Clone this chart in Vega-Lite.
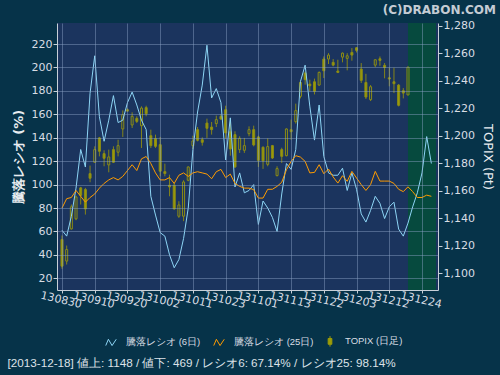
{
  "$schema": "https://vega.github.io/schema/vega-lite/v6.json",
  "width": 381,
  "height": 267,
  "autosize": {"type": "none"},
  "padding": {"left": 57, "top": 23, "right": 62, "bottom": 85},
  "background": "#063349",
  "config": {
    "view": {"fill": "#1b345e", "stroke": null},
    "font": "DejaVu Sans",
    "axis": {
      "labelColor": "#d8dde4",
      "labelFont": "DejaVu Sans",
      "labelFontSize": 11,
      "domainColor": "#c8d0d8",
      "tickColor": "#c8d0d8",
      "gridColor": "#8fa3c8",
      "gridOpacity": 0.45,
      "titleColor": "#e8ecf0"
    }
  },
  "title": {
    "text": "(C)DRABON.COM",
    "anchor": "end",
    "orient": "top",
    "frame": "group",
    "dx": 58,
    "offset": 3,
    "fontSize": 12,
    "fontWeight": "bold",
    "color": "#c4ccd4",
    "font": "DejaVu Sans"
  },
  "datasets": {
    "ratios": [
      {"d":0,"r6":61,"r25":80},{"d":1,"r6":56,"r25":88},{"d":2,"r6":73,"r25":89},{"d":3,"r6":97,"r25":95},
      {"d":4,"r6":130,"r25":90},{"d":5,"r6":115,"r25":85},{"d":6,"r6":178,"r25":89},{"d":7,"r6":210,"r25":92},
      {"d":8,"r6":158,"r25":97},{"d":9,"r6":137,"r25":101},{"d":10,"r6":155,"r25":104},{"d":11,"r6":176,"r25":106},
      {"d":12,"r6":153,"r25":104},{"d":13,"r6":155,"r25":107},{"d":14,"r6":170,"r25":112},{"d":15,"r6":179,"r25":117},
      {"d":16,"r6":168,"r25":112},{"d":17,"r6":155,"r25":122},{"d":18,"r6":147,"r25":124},{"d":19,"r6":90,"r25":118},
      {"d":20,"r6":74,"r25":110},{"d":21,"r6":59,"r25":104},{"d":22,"r6":56,"r25":104},{"d":23,"r6":40,"r25":106},
      {"d":24,"r6":29,"r25":101},{"d":25,"r6":36,"r25":108},{"d":26,"r6":54,"r25":110},{"d":27,"r6":80,"r25":107},
      {"d":28,"r6":130,"r25":110},{"d":29,"r6":162,"r25":111},{"d":30,"r6":185,"r25":110},{"d":31,"r6":219,"r25":109},
      {"d":32,"r6":174,"r25":105},{"d":33,"r6":182,"r25":111},{"d":34,"r6":170,"r25":113},{"d":35,"r6":121,"r25":106},
      {"d":36,"r6":157,"r25":109},{"d":37,"r6":98,"r25":101},{"d":38,"r6":110,"r25":98.5},{"d":39,"r6":93,"r25":97},
      {"d":40,"r6":95,"r25":97},{"d":41,"r6":100,"r25":95.7},{"d":42,"r6":66,"r25":88.5},{"d":43,"r6":86,"r25":88.5},
      {"d":44,"r6":80,"r25":96},{"d":45,"r6":72,"r25":96},{"d":46,"r6":60,"r25":98.5},{"d":47,"r6":92,"r25":102},
      {"d":48,"r6":118,"r25":112.7},{"d":49,"r6":113,"r25":119.8},{"d":50,"r6":130,"r25":124.7},{"d":51,"r6":188,"r25":123.5},
      {"d":52,"r6":202,"r25":119.8},{"d":53,"r6":167,"r25":110},{"d":54,"r6":138,"r25":110.4},{"d":55,"r6":168,"r25":117},
      {"d":56,"r6":124,"r25":109.3},{"d":57,"r6":110,"r25":113.3},{"d":58,"r6":108,"r25":106.5},{"d":59,"r6":108,"r25":101.3},
      {"d":60,"r6":114,"r25":107.6},{"d":61,"r6":95,"r25":102.8},{"d":62,"r6":110,"r25":111.3},{"d":63,"r6":96,"r25":105.6},
      {"d":64,"r6":75,"r25":100},{"d":65,"r6":68,"r25":95},{"d":66,"r6":78,"r25":100},{"d":67,"r6":90,"r25":111.3},
      {"d":68,"r6":84,"r25":103},{"d":69,"r6":71,"r25":103},{"d":70,"r6":81,"r25":103},{"d":71,"r6":85,"r25":101},
      {"d":72,"r6":62,"r25":96},{"d":73,"r6":56,"r25":94},{"d":74,"r6":67.14,"r25":98.14},{"d":75,"r6":81,"r25":94},
      {"d":76,"r6":93,"r25":89},{"d":77,"r6":110,"r25":89},{"d":78,"r6":141,"r25":91},{"d":79,"r6":118,"r25":90}
    ],
    "topix": [
      {"d":0,"o":1124.7,"h":1127.6,"l":1103.4,"c":1105.3},{"d":1,"o":1109.0,"h":1120.3,"l":1106.5,"c":1117.4},
      {"d":2,"o":1132.4,"h":1150.1,"l":1131.9,"c":1148.4},{"d":3,"o":1139.7,"h":1156.6,"l":1138.7,"c":1155.6},
      {"d":4,"o":1162.2,"h":1162.9,"l":1150.1,"c":1156.8},{"d":5,"o":1161.0,"h":1162.2,"l":1142.8,"c":1146.9},
      {"d":6,"o":1172.6,"h":1178.4,"l":1166.3,"c":1169.2},{"d":7,"o":1180.8,"h":1192.4,"l":1180.3,"c":1190.0},
      {"d":8,"o":1198.5,"h":1199.2,"l":1185.1,"c":1188.8},{"d":9,"o":1187.1,"h":1189.5,"l":1177.9,"c":1183.7},
      {"d":10,"o":1178.9,"h":1190.0,"l":1173.5,"c":1184.7},{"d":11,"o":1190.0,"h":1192.4,"l":1180.3,"c":1180.8},
      {"d":12,"o":1188.1,"h":1197.2,"l":1185.1,"c":1192.9},{"d":13,"o":1205.0,"h":1218.5,"l":1199.2,"c":1215.4},
      {"d":14,"o":1219.0,"h":1220.0,"l":1217.6,"c":1218.0},{"d":15,"o":1207.9,"h":1217.1,"l":1205.7,"c":1214.2},
      {"d":16,"o":1212.7,"h":1214.2,"l":1209.3,"c":1210.5},{"d":17,"o":1207.4,"h":1221.4,"l":1191.2,"c":1220.2},
      {"d":18,"o":1220.5,"h":1221.9,"l":1214.2,"c":1216.1},{"d":19,"o":1200.1,"h":1204.5,"l":1191.2,"c":1192.9},
      {"d":20,"o":1198.0,"h":1200.9,"l":1191.2,"c":1192.4},{"d":21,"o":1193.6,"h":1199.2,"l":1170.6,"c":1174.3},
      {"d":22,"o":1174.0,"h":1179.8,"l":1170.6,"c":1172.6},{"d":23,"o":1164.1,"h":1171.8,"l":1156.1,"c":1162.9},
      {"d":24,"o":1164.1,"h":1165.8,"l":1146.4,"c":1146.9},{"d":25,"o":1141.6,"h":1152.5,"l":1140.4,"c":1149.8},
      {"d":26,"o":1141.6,"h":1167.7,"l":1138.0,"c":1166.5},{"d":27,"o":1167.7,"h":1177.9,"l":1167.0,"c":1177.4},
      {"d":28,"o":1192.9,"h":1200.1,"l":1190.5,"c":1196.3},{"d":29,"o":1204.5,"h":1206.4,"l":1196.0,"c":1196.8},
      {"d":30,"o":1197.2,"h":1198.9,"l":1192.9,"c":1195.3},{"d":31,"o":1209.3,"h":1212.5,"l":1198.5,"c":1205.5},
      {"d":32,"o":1206.4,"h":1210.1,"l":1200.9,"c":1204.5},{"d":33,"o":1208.9,"h":1214.7,"l":1206.4,"c":1211.8},
      {"d":34,"o":1214.2,"h":1215.9,"l":1211.8,"c":1212.2},{"d":35,"o":1219.0,"h":1221.9,"l":1198.0,"c":1202.1},
      {"d":36,"o":1203.0,"h":1210.3,"l":1185.6,"c":1190.5},{"d":37,"o":1200.9,"h":1203.3,"l":1176.7,"c":1177.4},
      {"d":38,"o":1190.0,"h":1199.7,"l":1187.6,"c":1198.2},{"d":39,"o":1189.5,"h":1198.5,"l":1187.6,"c":1192.9},
      {"d":40,"o":1201.6,"h":1206.9,"l":1199.7,"c":1204.5},{"d":41,"o":1204.5,"h":1207.4,"l":1192.4,"c":1193.4},
      {"d":42,"o":1199.2,"h":1200.1,"l":1177.4,"c":1182.2},{"d":43,"o":1191.7,"h":1192.4,"l":1176.0,"c":1181.8},
      {"d":44,"o":1179.3,"h":1198.2,"l":1177.9,"c":1192.2},{"d":45,"o":1192.9,"h":1193.4,"l":1183.2,"c":1183.9},
      {"d":46,"o":1171.1,"h":1177.9,"l":1170.6,"c":1176.2},{"d":47,"o":1190.0,"h":1191.4,"l":1180.3,"c":1185.1},
      {"d":48,"o":1185.6,"h":1205.5,"l":1185.1,"c":1205.0},{"d":49,"o":1204.5,"h":1211.8,"l":1197.2,"c":1203.0},
      {"d":50,"o":1210.3,"h":1223.4,"l":1208.9,"c":1218.3},{"d":51,"o":1228.7,"h":1240.1,"l":1227.2,"c":1238.8},
      {"d":52,"o":1245.6,"h":1246.8,"l":1237.2,"c":1240.8},{"d":53,"o":1237.6,"h":1240.8,"l":1232.3,"c":1236.4},
      {"d":54,"o":1239.3,"h":1241.6,"l":1230.1,"c":1232.3},{"d":55,"o":1236.9,"h":1246.8,"l":1236.4,"c":1246.1},
      {"d":56,"o":1255.8,"h":1257.7,"l":1242.0,"c":1247.3},{"d":57,"o":1255.8,"h":1260.1,"l":1252.2,"c":1258.7},
      {"d":58,"o":1253.4,"h":1255.8,"l":1250.5,"c":1251.4},{"d":59,"o":1247.1,"h":1255.3,"l":1245.6,"c":1246.1},
      {"d":60,"o":1257.2,"h":1260.6,"l":1253.4,"c":1260.1},{"d":61,"o":1256.3,"h":1260.1,"l":1247.6,"c":1258.2},
      {"d":62,"o":1260.6,"h":1263.8,"l":1254.6,"c":1258.7},{"d":63,"o":1264.0,"h":1264.5,"l":1260.6,"c":1262.1},
      {"d":64,"o":1248.5,"h":1252.9,"l":1238.4,"c":1240.3},{"d":65,"o":1238.8,"h":1245.1,"l":1226.8,"c":1228.2},
      {"d":66,"o":1226.3,"h":1236.9,"l":1225.3,"c":1235.7},{"d":67,"o":1251.4,"h":1255.3,"l":1250.0,"c":1255.3},
      {"d":68,"o":1256.0,"h":1257.7,"l":1250.9,"c":1254.8},{"d":69,"o":1251.2,"h":1252.9,"l":1241.8,"c":1249.7},
      {"d":70,"o":1242.2,"h":1249.5,"l":1236.0,"c":1241.3},{"d":71,"o":1239.3,"h":1249.5,"l":1231.1,"c":1237.9},
      {"d":72,"o":1236.9,"h":1237.6,"l":1221.4,"c":1222.2},{"d":73,"o":1232.8,"h":1234.7,"l":1227.2,"c":1231.1},
      {"d":74,"o":1229.7,"h":1250.0,"l":1229.7,"c":1250.0}
    ],
    "period": [{"d": 74, "d_end": 80}]
  },
  "encoding": {
    "x": {
      "field": "d",
      "type": "quantitative",
      "scale": {"domain": [0, 79.35], "nice": false, "zero": false},
      "axis": {
        "values": [0, 7, 14, 21, 28, 35, 42, 49, 56, 63, 70, 77],
        "labelExpr": "['130830','130910','130920','131002','131011','131023','131101','131113','131122','131203','131212','131224'][round(datum.value / 7)]",
        "labelAngle": 13,
        "labelAlign": "center",
        "labelBaseline": "top",
        "labelOverlap": false,
        "labelFlush": false,
        "labelBound": false,
        "labelPadding": 1,
        "tickSize": 3,
        "grid": true,
        "zindex": 1,
        "title": "[2013-12-18]  値上: 1148 / 値下: 469 / レシオ6: 67.14% / レシオ25: 98.14%",
        "titleAnchor": "start",
        "titleAlign": "left",
        "titleBaseline": "middle",
        "titleX": -50,
        "titleY": 72,
        "titleFont": "Liberation Sans",
        "titleFontSize": 11.7,
        "titleFontWeight": "normal",
        "titleColor": "#dde2e8"
      }
    }
  },
  "layer": [
    {
      "data": {"name": "period"},
      "mark": {"type": "rect", "color": "#064a3e", "clip": true},
      "encoding": {"x2": {"field": "d_end"}}
    },
    {
      "data": {"name": "topix"},
      "layer": [
        {
          "mark": {"type": "rule", "color": "#84841a", "strokeWidth": 1},
          "encoding": {
            "y": {
              "field": "l", "type": "quantitative",
              "scale": {"domain": [1088, 1282], "nice": false, "zero": false},
              "axis": {"orient": "right", "values": [1100,1120,1140,1160,1180,1200,1220,1240,1260,1280], "labelExpr": "format(datum.value, ',')", "grid": false, "tickSize": 4, "labelPadding": 1, "title": "TOPIX (Pt)", "titleAngle": 90, "titleFontSize": 13, "titleFontWeight": "normal", "titlePadding": 6}
            },
            "y2": {"field": "h"}
          }
        },
        {
          "mark": {"type": "bar", "orient": "vertical", "size": 2, "stroke": "#8c8c14", "strokeWidth": 1},
          "encoding": {
            "y": {
              "field": "o", "type": "quantitative",
              "scale": {"domain": [1088, 1282], "nice": false, "zero": false},
              "axis": {"orient": "right", "values": [1100,1120,1140,1160,1180,1200,1220,1240,1260,1280], "labelExpr": "format(datum.value, ',')", "grid": false, "tickSize": 4, "labelPadding": 1, "title": "TOPIX (Pt)", "titleAngle": 90, "titleFontSize": 13, "titleFontWeight": "normal", "titlePadding": 6}
            },
            "y2": {"field": "c"},
            "fill": {
              "condition": [
                {"test": "datum.c < datum.o", "value": "#9c9c08"},
                {"test": "datum.d >= 74", "value": "#064a3e"}
              ],
              "value": "#1b345e"
            }
          }
        }
      ]
    },
    {
      "data": {"name": "ratios"},
      "transform": [{"fold": ["r6", "r25"], "as": ["k", "v"]}],
      "mark": {"type": "line", "strokeWidth": 1, "clip": true},
      "encoding": {
        "y": {
          "field": "v", "type": "quantitative",
          "scale": {"domain": [10, 238], "nice": false, "zero": false},
          "axis": {"orient": "left", "values": [20,40,60,80,100,120,140,160,180,200,220], "grid": true, "zindex": 1, "tickSize": 4, "labelPadding": 1, "title": "騰落レシオ (%)", "titleFontSize": 13, "titleFontWeight": "bold", "titlePadding": 6}
        },
        "color": {
          "field": "k", "type": "nominal",
          "scale": {"domain": ["r6", "r25", "topix"], "range": ["#8dd5f5", "#ff9c00", "#9c9c08"]},
          "legend": {
            "orient": "none",
            "legendX": 48,
            "legendY": 312,
            "direction": "horizontal",
            "title": null,
            "labelExpr": "datum.value == 'r6' ? '騰落レシオ (6日)' : datum.value == 'r25' ? '騰落レシオ (25日)' : 'TOPIX (日足)'",
            "labelFont": "Liberation Sans",
            "labelFontSize": 9.5,
            "labelColor": "#d8dde4",
            "symbolSize": 110,
            "symbolStrokeWidth": 1,
            "labelOffset": 9,
            "columnPadding": 10,
            "symbolType": "M-1,0.6L-0.5,-0.6L0.2,0.6L1,-0.6",
            "encode": {
              "symbols": {
                "update": {
                  "shape": {"signal": "datum.value == 'topix' ? 'M0,-1V-0.55M-0.35,-0.55H0.35V0.55H-0.35ZM0,0.55V1' : 'M-1,0.6L-0.5,-0.6L0.2,0.6L1,-0.6'"},
                  "fill": {"signal": "datum.value == 'topix' ? '#9c9c08' : 'transparent'"}
                }
              }
            }
          }
        }
      }
    }
  ],
  "resolve": {"scale": {"y": "independent"}}
}
